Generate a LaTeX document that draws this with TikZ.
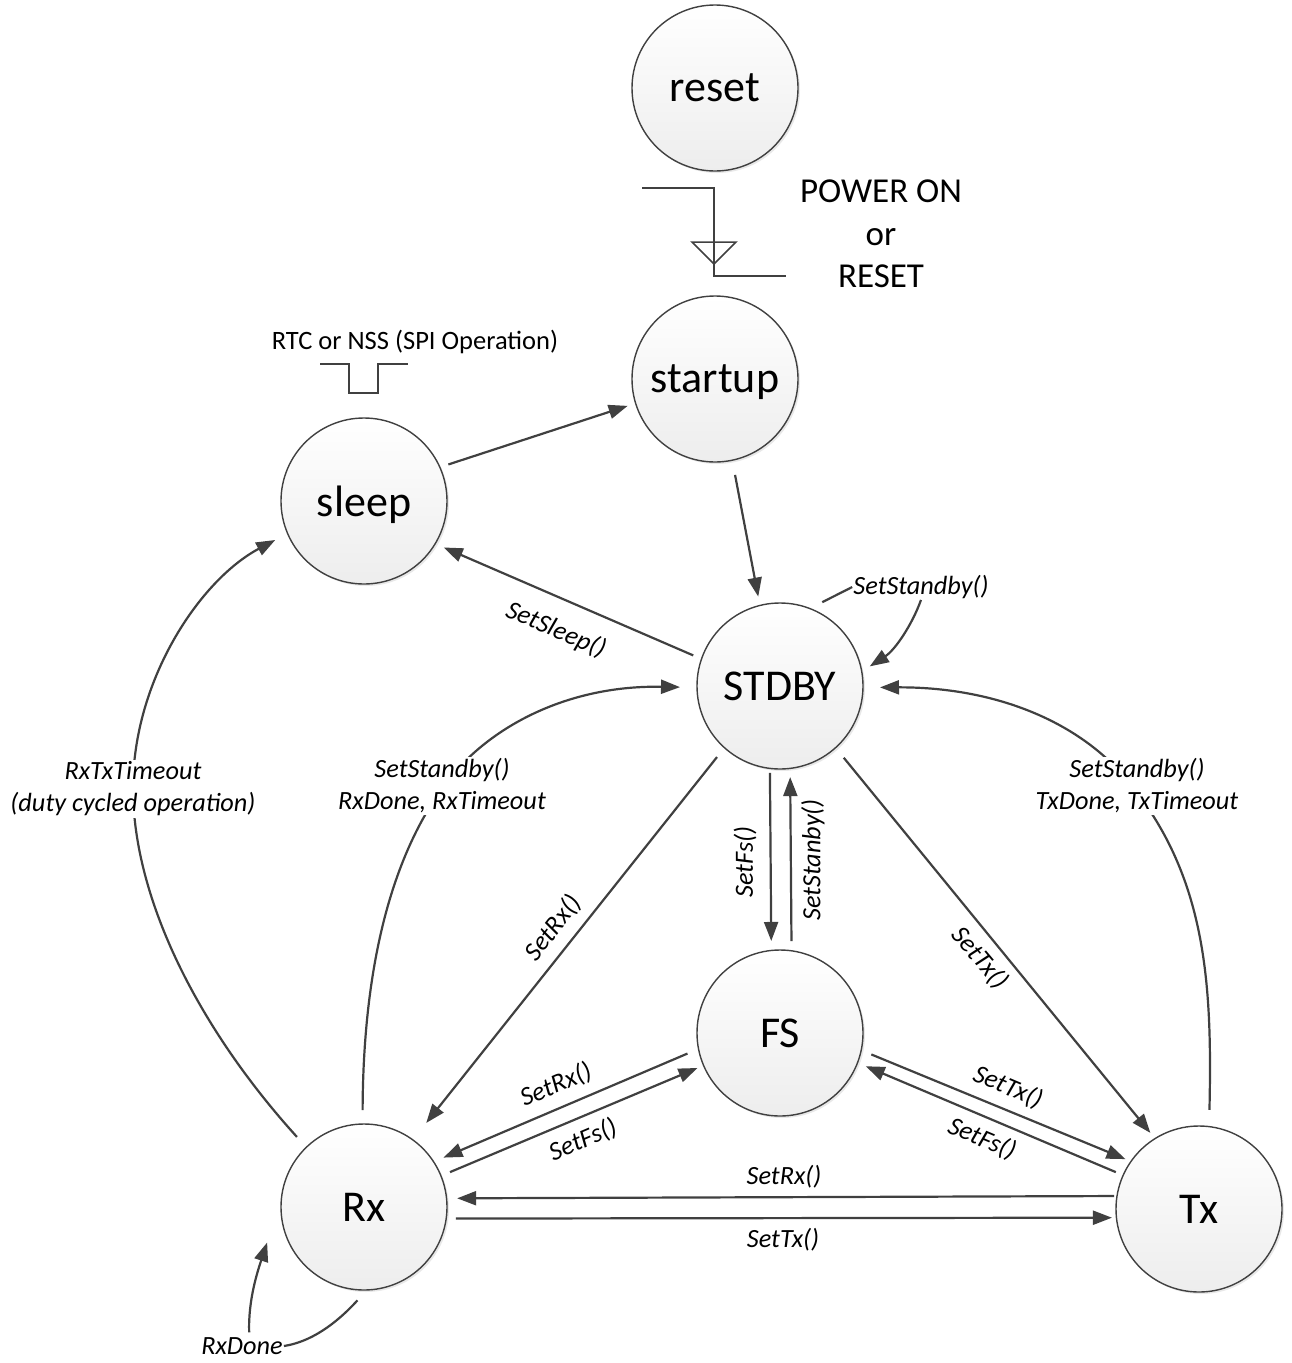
\documentclass[tikz,border=0pt]{standalone}
\usepackage{fontspec}
\setmainfont{Carlito}
\usetikzlibrary{arrows.meta,shadows,calc}
\definecolor{ink}{HTML}{404040}
\tikzset{
  state/.style={circle,draw=ink,line width=1.4pt,minimum size=166pt,inner sep=0pt,outer sep=0pt,
    top color=white,bottom color=black!7,
    drop shadow={opacity=.18,shadow xshift=2pt,shadow yshift=-2pt},
    text=black,font=\fontsize{44}{52}\selectfont,text depth=0pt},
  conn/.style={draw=ink,line width=2.2pt,-{Triangle[length=19pt,width=14pt]}},
  plainline/.style={draw=ink,line width=2.2pt},
  sig/.style={draw=ink,line width=1.8pt},
  lab/.style={font=\fontsize{26.3}{32}\selectfont\itshape,inner sep=1pt,text=black},
  blank/.style={lab,fill=white,align=center,inner ysep=2pt},
  caption/.style={font=\fontsize{35}{42.5}\selectfont,align=center,text=black,inner sep=0pt}
}
\begin{document}
\begin{tikzpicture}[x=1pt,y=-1pt]
\useasboundingbox (0,0) rectangle (1291,1363);
% states
\node[state] (reset) at (715,88) {reset};
\node[state] (startup) at (715,379) {startup};
\node[state] (sleep) at (364,501) {sleep};
\node[state] (stdby) at (780,686) {STDBY};
\node[state] (fs) at (780,1033) {FS};
\node[state] (rx) at (364,1207) {Rx};
\node[state] (tx) at (1199,1209) {Tx};
% long curved connectors (labels sit on top)
\draw[conn,shorten <=14pt,shorten >=14pt] (rx.134.6) .. controls (200,1030) and (133,900) .. (133,788) .. controls (133,680) and (200,580) .. (sleep.203.7);
\draw[conn,shorten <=14pt,shorten >=17pt] (rx.91.2) .. controls (363,1000) and (380,871) .. (446,783) .. controls (490,725) and (570,685) .. (stdby.181);
\draw[conn,shorten <=16.7pt,shorten >=17pt] (tx.83) .. controls (1212,990) and (1208,880) .. (1131,785) .. controls (1085,725) and (1000,687) .. (stdby.359);
% labels
\node[blank] (lRxTo) at (133,789) {RxTxTimeout\\(duty cycled operation)};
\node[blank] (lRxSb) at (442,786) {SetStandby()\\RxDone, RxTimeout};
\node[blank] (lTxSb) at (1137,786) {SetStandby()\\TxDone, TxTimeout};
\node[lab] (lSelf) at (921,587) {SetStandby()};
\node[lab] (lDone) at (242,1346) {RxDone};
\node[lab,rotate=-23] (lSleep) at (556,630) {SetSleep()};
\node[lab,rotate=52] (lSetRx) at (553,928) {SetRx()};
\node[lab,rotate=90] (lSetFs) at (745,862) {SetFs()};
\node[lab,rotate=90] (lStanby) at (813,860) {SetStanby()};
\node[lab,rotate=-50] (lSetTx) at (980,958) {SetTx()};
\node[lab,rotate=23] (lFsRx) at (556,1085) {SetRx()};
\node[lab,rotate=23] (lRxFs) at (583,1140) {SetFs()};
\node[lab,rotate=-23] (lFsTx) at (1008,1087) {SetTx()};
\node[lab,rotate=-23] (lTxFs) at (982,1139) {SetFs()};
\node[lab] (lTxRx) at (784,1177) {SetRx()};
\node[lab] (lRxTx) at (783,1240) {SetTx()};
\node[caption] (power) at (881,234) {POWER ON\\or\\RESET};
\node[font=\fontsize{26.5}{30}\selectfont,inner sep=0pt,text=black] (rtc) at (415,342) {RTC or NSS (SPI Operation)};
% straight connectors
\draw[conn,shorten <=9pt,shorten >=8.4pt] (sleep.24.3) -- (startup.197.8);
\draw[conn,shorten <=15pt,shorten >=9pt] (startup.282.3) -- (stdby.104.5);
\draw[conn,shorten <=9pt,shorten >=9.4pt] (stdby.161) -- (sleep.-31.3);
\draw[conn,shorten <=12pt,shorten >=21.6pt] (stdby.228.4) -- (rx.54.3);
\draw[conn,shorten <=4.5pt,shorten >=9.5pt] (stdby.263.8) -- (fs.96.2);
\draw[conn,shorten <=9.7pt,shorten >=8.7pt] (fs.82.4) -- (stdby.277.6);
\draw[conn,shorten <=13pt,shorten >=7.4pt] (stdby.312.5) -- (tx.122.8);
\draw[conn,shorten <=12pt,shorten >=10.7pt] (fs.191.5) -- (rx.33.7);
\draw[conn,shorten <=9.8pt,shorten >=6.6pt] (rx.22.1) -- (fs.203.7);
\draw[conn,shorten <=11pt,shorten >=6pt] (fs.348.3) -- (tx.145);
\draw[conn,shorten <=8pt,shorten >=9pt] (tx.156) -- (fs.339);
\draw[conn,shorten <=3pt,shorten >=10.6pt] (tx.171.7) -- (rx.6.9);
\draw[conn,shorten <=9.7pt,shorten >=4.5pt] (rx.352.4) -- (tx.186.2);
% self loops through their labels
\draw[plainline,shorten <=14pt] (stdby.69.4) -- (lSelf.west);
\draw[conn,shorten >=9.6pt] (lSelf.south) .. controls (912,625) and (895,650) .. (stdby.10.6);
\draw[plainline,shorten <=14pt] (rx.272.4) .. controls (335,1325) and (310,1342) .. (lDone.east);
\draw[conn,shorten <=4pt,shorten >=45pt] (lDone.53) .. controls (248,1300) and (258,1270) .. (rx.175);
% signal glyphs
\draw[sig] (642,188) -- (714,188) -- (714,276) -- (786,276);
\draw[sig,line width=1.5pt] (692,242) -- (736,242) -- (714,264) -- cycle;
\draw[sig] (320,364) -- (349,364) -- (349,393) -- (378,393) -- (378,364) -- (408,364);
\end{tikzpicture}
\end{document}
